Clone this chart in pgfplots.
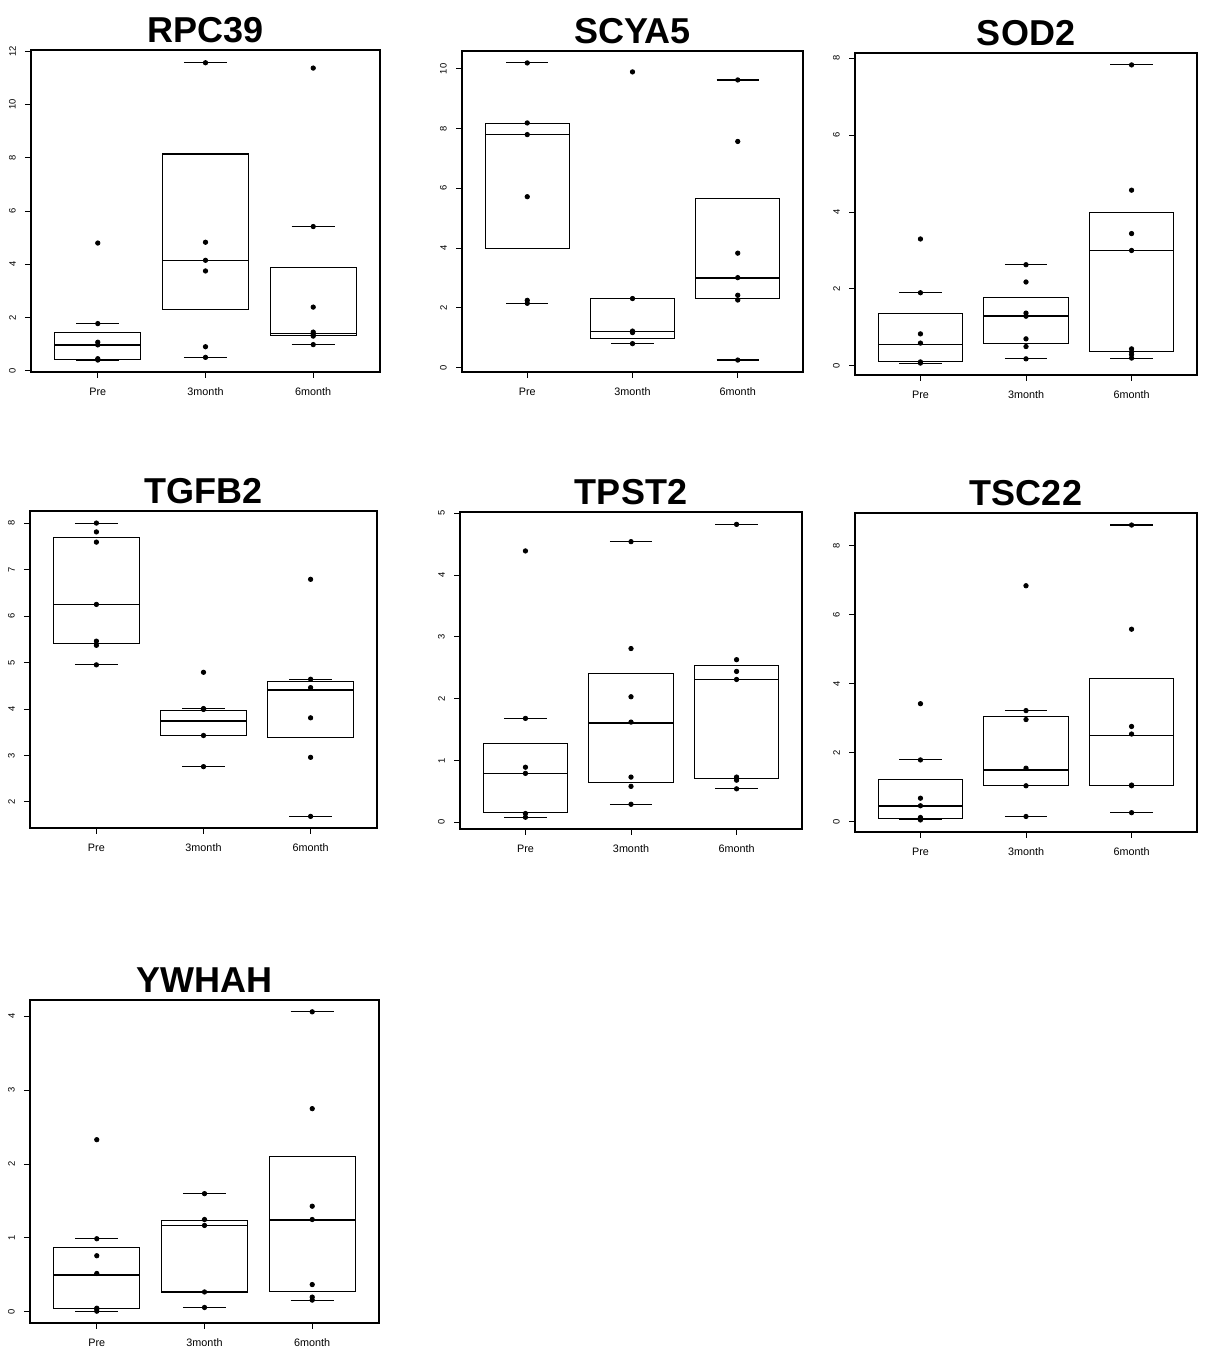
\documentclass[border=0pt]{standalone}
\usepackage{fontspec}
\setmainfont{Liberation Sans}
\usepackage{pgfplots}
\pgfplotsset{compat=1.18}
\usepgfplotslibrary{statistics}

\pgfplotsset{
  boxplot/draw/lower whisker/.code={%
    \draw[/pgfplots/boxplot/every whisker/.try]
      (boxplot whisker cs:\pgfplotsboxplotvalue{lower whisker},0) --
      (boxplot whisker cs:\pgfplotsboxplotvalue{lower whisker},1);},
  boxplot/draw/upper whisker/.code={%
    \draw[/pgfplots/boxplot/every whisker/.try]
      (boxplot whisker cs:\pgfplotsboxplotvalue{upper whisker},0) --
      (boxplot whisker cs:\pgfplotsboxplotvalue{upper whisker},1);},
  rbox/.style={
    scale only axis,
    anchor=south west,
    xmin=0.38, xmax=3.62,
    xtick={1,2,3}, xticklabels={Pre,3month,6month},
    tick align=outside, tick pos=left,
    major tick length=3pt,
    minor tick num=0,
    axis line style={line width=0.7pt},
    every tick/.style={black, line width=0.5pt},
    title style={font=\bfseries\fontsize{18}{20}\selectfont, at={(0.5,1)}, anchor=base, yshift=-2.2pt},
    xticklabel style={font=\fontsize{5.4}{6}\selectfont, inner sep=0pt, anchor=north},
    xticklabel shift=4.8pt,
    yticklabel style={font=\fontsize{4.7}{5}\selectfont, rotate=90, anchor=south, inner sep=0pt},
    yticklabel shift=4.4pt,
    /pgf/number format/assume math mode=true,
    boxplot/draw direction=y,
    boxplot/box extend=0.8,
    boxplot/whisker extend=0.4,
    boxplot/every median/.style={line width=0.8pt},
    boxplot/every box/.style={line width=0.55pt},
    boxplot/every whisker/.style={line width=0.55pt},
  },
}
\newcommand\bx[6]{\addplot[black, line width=0.55pt, boxplot prepared={draw position=#1, lower whisker=#2, lower quartile=#3, median=#4, upper quartile=#5, upper whisker=#6}] coordinates {};}
\newcommand\pts[1]{\addplot[only marks, mark=*, mark size=1.1pt, black] coordinates {#1};}

\begin{document}
\begin{tikzpicture}
\useasboundingbox (0,0) rectangle (605pt,675pt);
\fill[white] (0,0) rectangle (605pt,675pt);

% RPC39
\begin{axis}[rbox, at={(15.5pt,489pt)}, width=174.5pt, height=161pt,
  ymin=-0.05, ymax=12.06, ytick={0,2,4,6,8,10,12}, title={RPC39}]
\bx{1}{0.40}{0.42}{0.97}{1.43}{1.77}
\bx{2}{0.50}{2.29}{4.15}{8.15}{11.60}
\bx{3}{0.98}{1.33}{1.40}{3.87}{5.42}
\pts{(1,0.40) (1,0.45) (1,0.97) (1,1.07) (1,1.77) (1,4.80)
     (2,0.50) (2,0.90) (2,3.75) (2,4.15) (2,4.83) (2,11.58)
     (3,0.98) (3,1.30) (3,1.38) (3,1.45) (3,2.39) (3,5.42) (3,11.38)}
\end{axis}

% SCYA5
\begin{axis}[rbox, at={(231pt,489pt)}, width=170.5pt, height=160.5pt,
  ymin=-0.15, ymax=10.6, ytick={0,2,4,6,8,10}, title={SCYA5}]
\bx{1}{2.15}{4.00}{7.80}{8.17}{10.20}
\bx{2}{0.80}{0.98}{1.20}{2.30}{2.30}
\bx{3}{0.25}{2.30}{3.00}{5.67}{9.63}
\pts{(1,2.15) (1,2.25) (1,5.72) (1,7.80) (1,8.19) (1,10.20)
     (2,0.80) (2,1.17) (2,1.22) (2,2.31) (2,9.90)
     (3,0.25) (3,2.26) (3,2.42) (3,3.01) (3,3.83) (3,7.57) (3,9.63)}
\end{axis}

% SOD2
\begin{axis}[rbox, at={(427.5pt,487.5pt)}, width=171pt, height=161pt,
  ymin=-0.24, ymax=8.14, ytick={0,2,4,6,8}, title={SOD2}]
\bx{1}{0.07}{0.10}{0.55}{1.35}{1.90}
\bx{2}{0.18}{0.57}{1.29}{1.78}{2.63}
\bx{3}{0.20}{0.36}{3.00}{4.00}{7.83}
\pts{(1,0.07) (1,0.10) (1,0.59) (1,0.83) (1,1.90) (1,3.30)
     (2,0.18) (2,0.50) (2,0.70) (2,1.29) (2,1.37) (2,2.18) (2,2.63)
     (3,0.20) (3,0.29) (3,0.36) (3,0.44) (3,3.00) (3,3.44) (3,4.57) (3,7.83)}
\end{axis}

% TGFB2
\begin{axis}[rbox, at={(15pt,261pt)}, width=173.5pt, height=158.5pt,
  ymin=1.44, ymax=8.26, ytick={2,3,4,5,6,7,8}, title={TGFB2}]
\bx{1}{4.95}{5.41}{6.25}{7.68}{8.00}
\bx{2}{2.76}{3.43}{3.74}{3.96}{4.01}
\bx{3}{1.69}{3.38}{4.41}{4.59}{4.64}
\pts{(1,4.95) (1,5.37) (1,5.46) (1,6.25) (1,7.59) (1,7.81) (1,8.00)
     (2,2.76) (2,3.43) (2,3.99) (2,4.01) (2,4.79)
     (3,1.69) (3,2.96) (3,3.81) (3,4.46) (3,4.64) (3,6.79)}
\end{axis}

% TPST2
\begin{axis}[rbox, at={(230pt,260.5pt)}, width=171pt, height=158.5pt,
  ymin=-0.11, ymax=5.02, ytick={0,1,2,3,4,5}, title={TPST2}]
\bx{1}{0.08}{0.16}{0.79}{1.28}{1.68}
\bx{2}{0.29}{0.64}{1.61}{2.41}{4.54}
\bx{3}{0.54}{0.70}{2.31}{2.54}{4.82}
\pts{(1,0.08) (1,0.14) (1,0.79) (1,0.89) (1,1.68) (1,4.39)
     (2,0.29) (2,0.58) (2,0.73) (2,1.62) (2,2.03) (2,2.81) (2,4.54)
     (3,0.54) (3,0.68) (3,0.73) (3,2.31) (3,2.44) (3,2.63) (3,4.82)}
\end{axis}

% TSC22
\begin{axis}[rbox, at={(427.5pt,259pt)}, width=171pt, height=159.5pt,
  ymin=-0.30, ymax=8.95, ytick={0,2,4,6,8}, title={TSC22}]
\bx{1}{0.05}{0.10}{0.46}{1.23}{1.79}
\bx{2}{0.15}{1.04}{1.50}{3.06}{3.22}
\bx{3}{0.26}{1.04}{2.50}{4.15}{8.60}
\pts{(1,0.05) (1,0.12) (1,0.46) (1,0.68) (1,1.79) (1,3.42)
     (2,0.15) (2,1.04) (2,1.55) (2,2.96) (2,3.22) (2,6.84)
     (3,0.26) (3,1.04) (3,1.06) (3,2.54) (3,2.76) (3,5.58) (3,8.60)}
\end{axis}

% YWHAH
\begin{axis}[rbox, at={(15pt,13.5pt)}, width=174.5pt, height=161.5pt,
  ymin=-0.15, ymax=4.22, ytick={0,1,2,3,4}, title={YWHAH}]
\bx{1}{0.01}{0.05}{0.50}{0.87}{0.99}
\bx{2}{0.06}{0.27}{1.17}{1.24}{1.60}
\bx{3}{0.16}{0.28}{1.24}{2.10}{4.06}
\pts{(1,0.01) (1,0.04) (1,0.05) (1,0.52) (1,0.76) (1,0.99) (1,2.33)
     (2,0.06) (2,0.27) (2,1.17) (2,1.25) (2,1.60)
     (3,0.16) (3,0.20) (3,0.37) (3,1.25) (3,1.43) (3,2.75) (3,4.06)}
\end{axis}
\end{tikzpicture}
\end{document}
